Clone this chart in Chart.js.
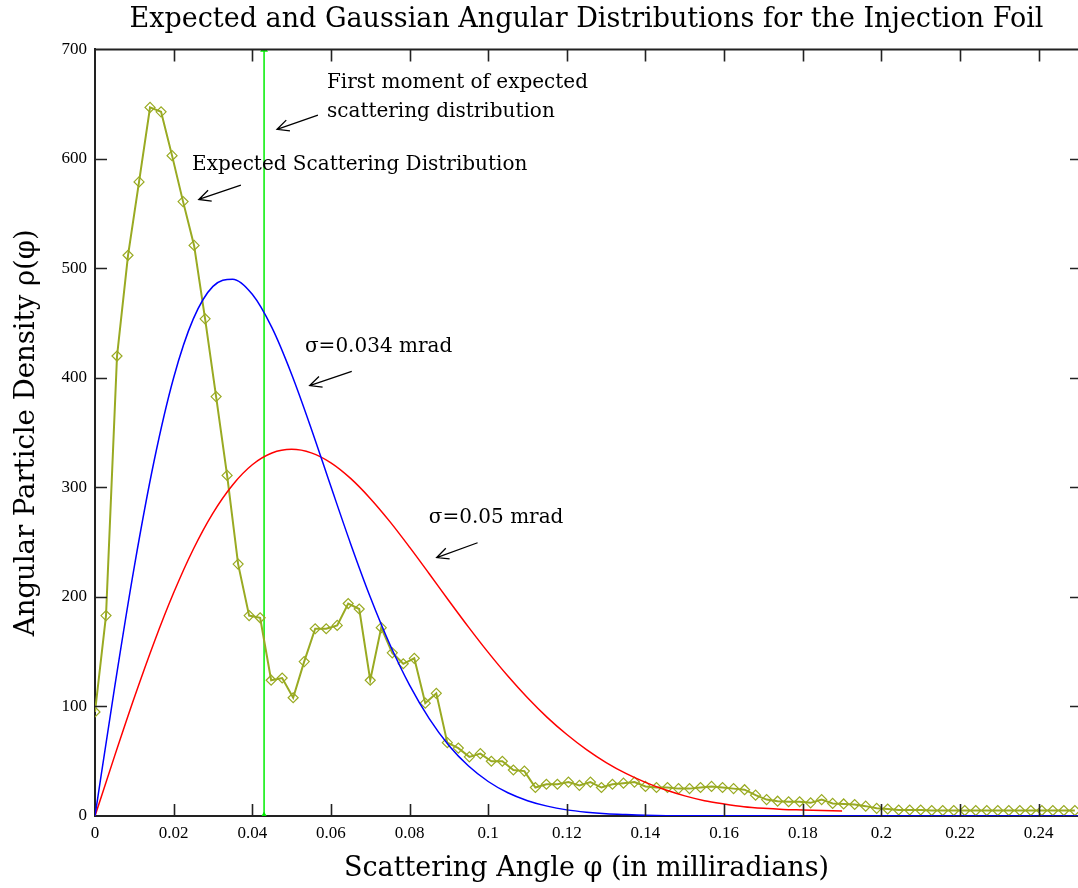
<!DOCTYPE html>
<html>
<head>
<meta charset="utf-8">
<script src="https://cdn.jsdelivr.net/npm/chart.js@4/dist/chart.umd.min.js"></script>
<style>
  html, body { margin: 0; padding: 0; background: #fff; }
  #wrap { width: 1078px; height: 888px; }
</style>
</head>
<body>
<div id="wrap"><canvas id="angChart"></canvas></div>
<script>
// expected scattering distribution (diamond markers)
const expectedAngle = [
  0, .0028, .0056, .0084, .0112, .014, .0168, .0196, .0224, .0252,
  .028, .0308, .0336, .0364, .0392, .042, .0448, .0476, .0504, .0532,
  .056, .0588, .0616, .0644, .0672, .07, .0728, .0756, .0784, .0812,
  .084, .0868, .0896, .0924, .0952, .098, .1008, .1036, .1064, .1092,
  .112, .1148, .1176, .1204, .1232, .126, .1288, .1316, .1344, .1372,
  .14, .1428, .1456, .1484, .1512, .154, .1568, .1596, .1624, .1652,
  .168, .1708, .1736, .1764, .1792, .182, .1848, .1876, .1904, .1932,
  .196, .1988, .2016, .2044, .2072, .21, .2128, .2156, .2184, .2212,
  .224, .2268, .2296, .2324, .2352, .238, .2408, .2436, .2464, .2492
]
const expectedDensity = [
  95, 183, 420, 512, 579, 647, 643, 603, 561, 521,
  454, 383, 311, 230, 183, 181, 124, 126, 108, 141,
  171, 171, 174, 194, 189, 124, 172, 149, 139, 144,
  103, 112, 67, 62, 54, 57, 50, 50, 42, 41,
  26, 29, 29, 31, 28, 31, 26, 29, 30, 31,
  27, 26, 26, 25, 25, 26, 27, 26, 25, 24,
  19, 15, 13.5, 13, 13, 12, 15, 11.5, 11, 10.5,
  9, 7, 6.4, 5.5, 5.5, 5.5, 5, 5, 5, 5,
  5, 5, 5, 5, 5, 5, 5, 5, 5, 5
]

// gaussian, sigma = 0.034 mrad (blue)
const narrowAngle = [0, .005, .01, .015, .02, .025, .03, .035, .04, .045, .05, .055, .06, .065, .07,
  .075, .08, .085, .09, .095, .1, .105, .11, .115, .12, .125, .13, .135, .14, .15, .25]
const narrowDensity = [0, 117.7, 227.8, 323.7, 400.2, 453.9, 483.6, 490.2, 476.4, 445.9, 403.4, 353.7, 300.8, 248.7, 200,
  156.6, 119.5, 88.9, 64.4, 45.6, 31.5, 21.2, 14, 9, 5.6, 3.5, 2.1, 1.3, 0.7, 0.2, 0]

// gaussian, sigma = 0.05 mrad (red)
const wideAngle = [0, .005, .01, .015, .02, .025, .03, .035, .04, .045, .05, .055, .06, .065, .07,
  .075, .08, .085, .09, .095, .1, .105, .11, .115, .12, .125, .13, .135, .14, .145, .15, .155, .16,
  .165, .17, .175, .18, .185, .19]
const wideDensity = [0, 54.9, 108.2, 158.3, 203.8, 243.6, 276.6, 302.3, 320.7, 331.4, 334.8, 331.6, 322.5, 308.3, 290,
  268.8, 245.5, 221.2, 196.6, 172.5, 149.4, 127.8, 108, 90.1, 74.4, 60.6, 48.8, 38.9, 30.7, 23.9, 18.4, 14, 11,
  8.5, 7, 6, 5.5, 5, 4.5]

// first moment of the expected distribution
const firstMoment = 0.043
const yTop = 700

// text notes and arrows (data coordinates)
const notes = [
  { text: "First moment of expected", x: 0.059, y: 665 },
  { text: "scattering distribution", x: 0.059, y: 638 },
  { text: "Expected Scattering Distribution", x: 0.0247, y: 590 },
  { text: "\u03c3=0.034 mrad", x: 0.0534, y: 424 },
  { text: "\u03c3=0.05 mrad", x: 0.0849, y: 268 }
]
const arrows = [
  { from: [0.0567, 640], to: [0.0463, 627] },
  { from: [0.0371, 576], to: [0.0264, 563] },
  { from: [0.0653, 406], to: [0.0546, 393] },
  { from: [0.0973, 249.5], to: [0.0869, 236] }
]

function pairs(xs, ys) {
  return xs.map(function(x, i) { return {x: x, y: ys[i]} })
}

const serif = "'Liberation Serif', 'Times New Roman', serif"
const wideSerif = "'DejaVu Serif', serif"

const framePlugin = {
  id: 'frameTicks',
  afterDatasetsDraw(chart) {
    const ctx = chart.ctx
    const a = chart.chartArea
    const xs = chart.scales.x, ys = chart.scales.y
    ctx.save()
    ctx.strokeStyle = '#222'
    ctx.lineWidth = 2
    // top frame
    ctx.beginPath()
    ctx.moveTo(a.left, a.top)
    ctx.lineTo(a.right, a.top)
    ctx.stroke()
    ctx.lineWidth = 1.6
    xs.ticks.forEach(function(t) {
      const px = Math.round(xs.getPixelForValue(t.value)) + 0.5
      if (t.value === 0) return
      ctx.beginPath()
      ctx.moveTo(px, a.bottom); ctx.lineTo(px, a.bottom - 12)
      ctx.moveTo(px, a.top); ctx.lineTo(px, a.top + 12)
      ctx.stroke()
    })
    ys.ticks.forEach(function(t) {
      const py = Math.round(ys.getPixelForValue(t.value)) + 0.5
      if (t.value === 0 || t.value === yTop) return
      ctx.beginPath()
      ctx.moveTo(a.left, py); ctx.lineTo(a.left + 12, py)
      ctx.moveTo(a.right, py); ctx.lineTo(a.right - 8, py)
      ctx.stroke()
    })
    // notes
    ctx.fillStyle = '#000'
    ctx.font = '20px ' + wideSerif
    ctx.textBaseline = 'alphabetic'
    ctx.textAlign = 'left'
    notes.forEach(function(n) {
      ctx.fillText(n.text, xs.getPixelForValue(n.x), ys.getPixelForValue(n.y))
    })
    ctx.strokeStyle = '#000'
    ctx.lineWidth = 1.3
    arrows.forEach(function(ar) {
      const x1 = xs.getPixelForValue(ar.from[0]), y1 = ys.getPixelForValue(ar.from[1])
      const x2 = xs.getPixelForValue(ar.to[0]), y2 = ys.getPixelForValue(ar.to[1])
      const ang = Math.atan2(y1 - y2, x1 - x2)
      ctx.beginPath()
      ctx.moveTo(x1, y1); ctx.lineTo(x2, y2)
      ctx.moveTo(x2 + 13 * Math.cos(ang - 0.45), y2 + 13 * Math.sin(ang - 0.45))
      ctx.lineTo(x2, y2)
      ctx.lineTo(x2 + 13 * Math.cos(ang + 0.45), y2 + 13 * Math.sin(ang + 0.45))
      ctx.stroke()
    })
    ctx.restore()
  }
}

const chart = new Chart('angChart', {
  type: 'line',
  data: {
    datasets: [
      {
        label: 'sigma 0.034',
        data: pairs(narrowAngle, narrowDensity),
        borderColor: '#0000ff',
        borderWidth: 1.5,
        pointRadius: 0,
        cubicInterpolationMode: 'monotone'
      },
      {
        label: 'sigma 0.05',
        data: pairs(wideAngle, wideDensity),
        borderColor: '#ff0000',
        borderWidth: 1.5,
        pointRadius: 0,
        cubicInterpolationMode: 'monotone'
      },
      {
        label: 'Expected Scattering Distribution',
        data: pairs(expectedAngle, expectedDensity),
        borderColor: '#99aa22',
        borderWidth: 2,
        pointStyle: 'rectRot',
        pointRadius: 5,
        pointBorderWidth: 1.2,
        pointBackgroundColor: 'rgba(0,0,0,0)',
        pointBorderColor: '#99aa22',
        tension: 0
      },
      {
        label: 'First moment',
        data: [{x: firstMoment, y: 0}, {x: firstMoment, y: yTop}],
        borderColor: '#00ee00',
        borderWidth: 1.5,
        pointStyle: 'triangle',
        pointRadius: 3,
        pointBackgroundColor: 'rgba(0,0,0,0)',
        pointBorderColor: '#00ee00'
      }
    ]
  },
  options: {
    responsive: true,
    maintainAspectRatio: false,
    animation: false,
    layout: { padding: 0, autoPadding: false },
    plugins: {
      legend: { display: false },
      tooltip: { enabled: false },
      title: {
        display: true,
        fullSize: false,
        text: 'Expected and Gaussian Angular Distributions for the Injection Foil',
        color: '#000',
        font: { family: wideSerif, size: 27, weight: 'normal' },
        padding: { top: 4, bottom: 13 }
      }
    },
    scales: {
      x: {
        type: 'linear',
        min: 0,
        max: 0.25,
        grid: { display: false, drawTicks: false },
        border: { display: true, color: '#222', width: 2 },
        ticks: {
          stepSize: 0.02,
          includeBounds: false,
          padding: 7,
          color: '#000',
          maxRotation: 0,
          font: { family: serif, size: 17 },
          callback: function(v) { return String(Number(v.toFixed(2))) }
        },
        title: {
          display: true,
          text: 'Scattering Angle \u03c6 (in milliradians)',
          color: '#000',
          font: { family: wideSerif, size: 27 },
          padding: { top: 8, bottom: 3 }
        },
        afterFit: function(s) { s.height = 72; s.paddingLeft = 0; s.paddingRight = 0 }
      },
      y: {
        min: 0,
        max: 700,
        grid: { display: false, drawTicks: false },
        border: { display: true, color: '#222', width: 2 },
        ticks: {
          stepSize: 100,
          padding: 8,
          color: '#000',
          font: { family: serif, size: 17 }
        },
        title: {
          display: true,
          text: 'Angular Particle Density \u03c1(\u03c6)',
          color: '#000',
          font: { family: wideSerif, size: 27.5 },
          padding: { top: 10, bottom: 10 }
        },
        afterFit: function(s) { s.width = 95 }
      }
    }
  },
  plugins: [framePlugin]
})
</script>
</body>
</html>
